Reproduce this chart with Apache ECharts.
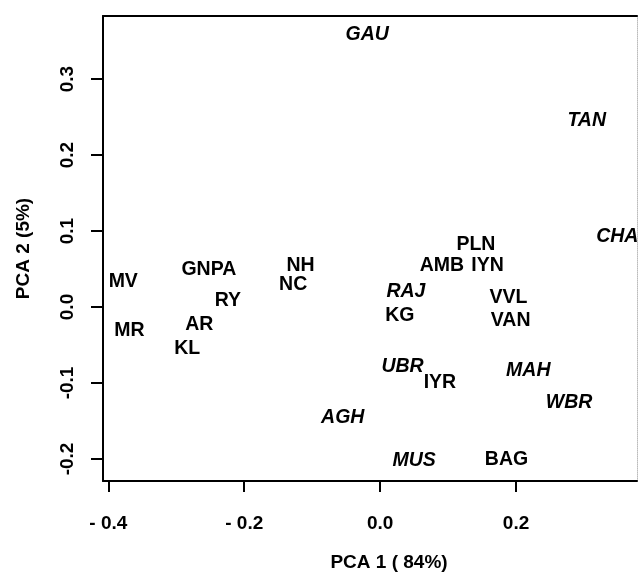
<!DOCTYPE html>
<html>
<head>
<meta charset="utf-8">
<style>
  html, body { margin: 0; padding: 0; background: #fff; }
  #chart { width: 639px; height: 572px; }
</style>
<script src="https://cdn.jsdelivr.net/npm/echarts@6/dist/echarts.min.js"></script>
</head>
<body>
<div id="chart"></div>
<script>
// population labels and their PCA scores
const names = ['GAU', 'TAN', 'CHA', 'PLN', 'AMB', 'IYN', 'MV', 'GNPA', 'NH', 'NC', 'RY', 'AR', 'MR', 'KL',
  'RAJ', 'KG', 'VVL', 'VAN', 'UBR', 'IYR', 'MAH', 'WBR', 'AGH', 'MUS', 'BAG']
const pca1 = [-0.019, 0.304, 0.349, 0.141, 0.091, 0.158, -0.378, -0.252, -0.117, -0.128, -0.224, -0.266, -0.369, -0.284,
  0.038, 0.029, 0.189, 0.192, 0.033, 0.088, 0.218, 0.278, -0.055, 0.050, 0.186]
const pca2 = [0.358, 0.245, 0.092, 0.082, 0.055, 0.055, 0.033, 0.049, 0.054, 0.030, 0.008, -0.023, -0.031, -0.055,
  0.020, -0.011, 0.0125, -0.018, -0.078, -0.099, -0.084, -0.126, -0.145, -0.202, -0.201]
// labels printed in italics
const italicNames = ['GAU', 'TAN', 'CHA', 'RAJ', 'UBR', 'MAH', 'WBR', 'AGH', 'MUS']

const xTicks = [-0.4, -0.2, 0, 0.2]
const yTicks = [-0.2, -0.1, 0, 0.1, 0.2, 0.3]

const font = '"Liberation Sans", Arial, sans-serif'
const ink = '#000'

const fmt = v => {
  const s = Math.abs(v).toFixed(1)
  return v < -1e-9 ? '- ' + s : s
}

const chart = echarts.init(document.getElementById('chart'))

chart.setOption({
  animation: false,
  grid: { left: 103, top: 16, right: 2, bottom: 91, outerBoundsMode: 'none' },
  xAxis: [
    {
      type: 'value',
      min: -0.4078,
      max: 0.378,
      name: 'PCA 1 ( 84%)',
      nameLocation: 'middle',
      nameGap: 72,
      nameTextStyle: { color: ink, fontFamily: font, fontWeight: 'bold', fontSize: 19, padding: [0, 0, 0, 38] },
      axisLine: { show: true, onZero: false, lineStyle: { color: ink, width: 2 } },
      axisTick: { show: true, customValues: xTicks, length: 11, lineStyle: { color: ink, width: 2 } },
      axisLabel: {
        customValues: xTicks,
        margin: 33,
        color: ink,
        fontFamily: font,
        fontWeight: 'bold',
        fontSize: 19,
        formatter: fmt
      },
      splitLine: { show: false }
    },
    {
      type: 'value',
      position: 'top',
      min: -0.4078,
      max: 0.378,
      axisLine: { show: true, onZero: false, lineStyle: { color: ink, width: 2 } },
      axisTick: { show: false },
      axisLabel: { show: false },
      splitLine: { show: false }
    }
  ],
  yAxis: [
    {
      type: 'value',
      min: -0.229,
      max: 0.383,
      name: 'PCA 2 (5%)',
      nameLocation: 'middle',
      nameRotate: 90,
      nameGap: 70,
      nameTextStyle: { color: ink, fontFamily: font, fontWeight: 'bold', fontSize: 19 },
      axisLine: { show: true, onZero: false, lineStyle: { color: ink, width: 2 } },
      axisTick: { show: true, customValues: yTicks, length: 12, lineStyle: { color: ink, width: 2 } },
      axisLabel: {
        customValues: yTicks,
        rotate: 90,
        margin: 26,
        color: ink,
        fontFamily: font,
        fontWeight: 'bold',
        fontSize: 19,
        formatter: v => (v < -1e-9 ? '-' : '') + Math.abs(v).toFixed(1)
      },
      splitLine: { show: false }
    },
    {
      type: 'value',
      position: 'right',
      min: -0.229,
      max: 0.383,
      axisLine: { show: true, onZero: false, lineStyle: { color: '#bbb', width: 1, type: 'dotted' } },
      axisTick: { show: false },
      axisLabel: { show: false },
      splitLine: { show: false }
    }
  ],
  series: [
    {
      type: 'scatter',
      symbolSize: 0,
      itemStyle: { opacity: 1 },
      data: names.map((n, i) => ({
        name: n,
        value: [pca1[i], pca2[i]],
        label: { fontStyle: italicNames.includes(n) ? 'italic' : 'normal' }
      })),
      label: {
        show: true,
        position: 'inside',
        formatter: p => p.name,
        color: ink,
        fontFamily: font,
        fontWeight: 'bold',
        fontSize: 19.5
      }
    }
  ]
})

window.addEventListener('resize', () => chart.resize())
</script>
</body>
</html>
